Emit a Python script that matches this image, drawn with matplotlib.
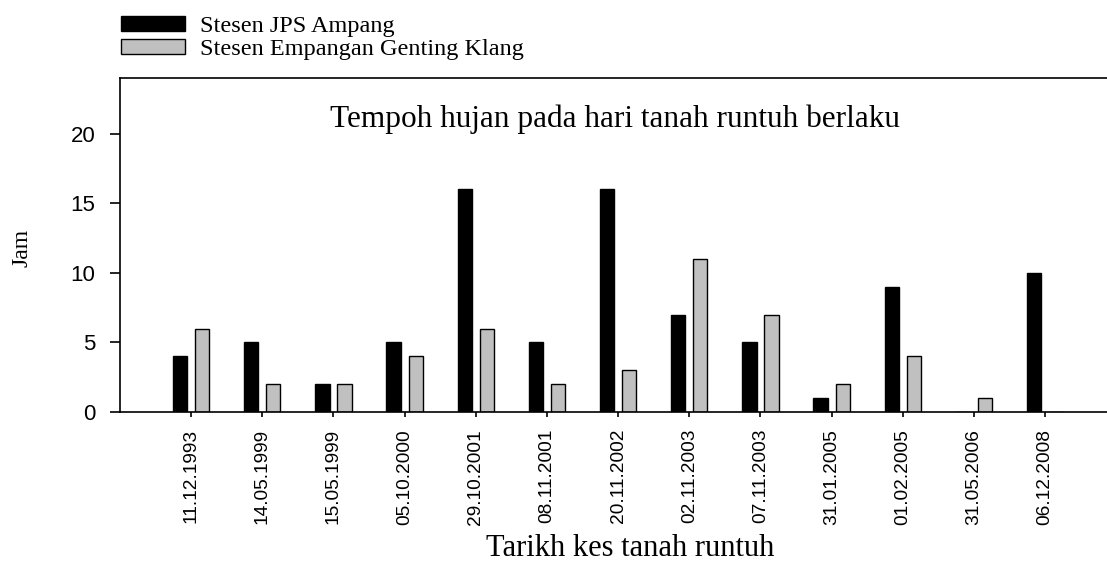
import matplotlib
matplotlib.use("Agg")
import matplotlib.pyplot as plt
import numpy as np
from matplotlib.patches import Patch

dates = ["11.12.1993", "14.05.1999", "15.05.1999", "05.10.2000", "29.10.2001",
         "08.11.2001", "20.11.2002", "02.11.2003", "07.11.2003", "31.01.2005",
         "01.02.2005", "31.05.2006", "06.12.2008"]
jps_ampang = [4, 5, 2, 5, 16, 5, 16, 7, 5, 1, 9, 0, 10]
genting_klang = [6, 2, 2, 4, 6, 2, 3, 11, 7, 2, 4, 1, 0]
yticks = [0, 5, 10, 15, 20]

serif = ["Liberation Serif", "DejaVu Serif"]
sans = ["Liberation Sans", "DejaVu Sans"]

W, H = 1107, 565
fig = plt.figure(figsize=(W / 100, H / 100), dpi=100)
ax = fig.add_axes([120 / W, 1 - 412 / H, 1 - 120 / W, (412 - 78) / H])

x = np.arange(len(dates))
bw = 0.2
off = 0.155
ax.bar(x - off, jps_ampang, width=bw, color="black", edgecolor="black", linewidth=1.0)
ax.bar(x + off, genting_klang, width=bw, color="#c0c0c0", edgecolor="black", linewidth=1.0)

ax.set_xlim(-1.0, 12.87)
ax.set_ylim(0, 24)
ax.set_yticks(yticks)
ax.set_yticklabels([str(v) for v in yticks], fontfamily=sans, fontsize=16)
ax.set_xticks(x)
ax.set_xticklabels(dates, rotation=90, fontfamily=sans, fontsize=13.8)

ax.spines["right"].set_visible(False)
for s in ["left", "top", "bottom"]:
    ax.spines[s].set_linewidth(1.2)
ax.tick_params(axis="y", direction="out", length=7.2, width=1.2, pad=10.5)
ax.tick_params(axis="x", direction="out", length=3.6, width=1.2, pad=8.6)

ax.text(5.95, 20.48, "Tempoh hujan pada hari tanah runtuh berlaku",
        ha="center", va="baseline", fontfamily=serif, fontsize=22.5)

fig.text(22 / W, 1 - 248 / H, "Jam", rotation=90, ha="center", va="center",
         fontfamily=serif, fontsize=17)
fig.text(630 / W, 1 - 548 / H, "Tarikh kes tanah runtuh", ha="center", va="center",
         fontfamily=serif, fontsize=22)

handles = [Patch(facecolor="black", edgecolor="black", linewidth=1.0),
           Patch(facecolor="#c0c0c0", edgecolor="black", linewidth=1.0)]
fs = 17.5
px = fs * 100 / 72
leg = fig.legend(handles, ["Stesen JPS Ampang", "Stesen Empangan Genting Klang"],
                 loc="upper left", bbox_to_anchor=(121 / W, 1 - 16 / H),
                 frameon=False, prop={"family": serif, "size": fs},
                 handlelength=64 / px, handleheight=13 / px,
                 handletextpad=15 / px, borderpad=0, borderaxespad=0,
                 labelspacing=0.08)

fig.savefig("out.png", dpi=100)
